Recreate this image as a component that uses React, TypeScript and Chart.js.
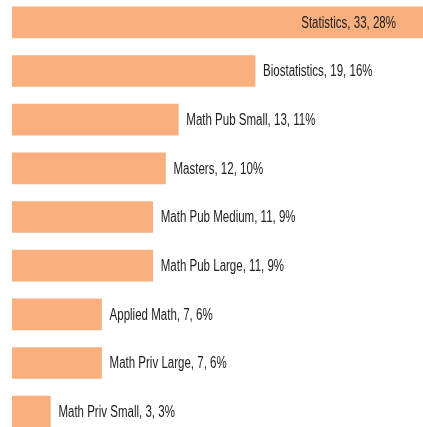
import React, { useEffect, useRef } from "react";
import { Chart, registerables } from "chart.js";

Chart.register(...registerables);

const categories = [
  "Statistics",
  "Biostatistics",
  "Math Pub Small",
  "Masters",
  "Math Pub Medium",
  "Math Pub Large",
  "Applied Math",
  "Math Priv Large",
  "Math Priv Small",
];
const counts = [33, 19, 13, 12, 11, 11, 7, 7, 3];
const percents = [28, 16, 11, 10, 9, 9, 6, 6, 3];

const FONT = '16px "Liberation Sans", Arial, sans-serif';
const SX = 0.72;

const labelPlugin = {
  id: "barLabels",
  afterDatasetsDraw(chart: any) {
    const ctx = chart.ctx;
    const meta = chart.getDatasetMeta(0);
    const area = chart.chartArea;
    ctx.save();
    ctx.font = FONT;
    ctx.fillStyle = "#222222";
    ctx.textBaseline = "middle";
    ctx.textAlign = "left";
    meta.data.forEach((bar: any, i: number) => {
      const text = `${categories[i]}, ${counts[i]}, ${percents[i]}%`;
      const w = ctx.measureText(text).width * SX;
      const y = bar.y + 1;
      let x = bar.x + 8;
      if (x + w > area.right) x = area.right - 27 - w;
      ctx.save();
      ctx.translate(x, y);
      ctx.scale(SX, 1);
      ctx.fillText(text, 0, 0);
      ctx.restore();
    });
    ctx.restore();
  },
};

export default function App() {
  const ref = useRef<HTMLCanvasElement>(null);
  useEffect(() => {
    if (!ref.current) return;
    const chart = new Chart(ref.current, {
      type: "bar",
      data: {
        labels: categories,
        datasets: [
          {
            data: counts,
            backgroundColor: "#F9AF7E",
            borderWidth: 0,
            barThickness: 31,
          },
        ],
      },
      options: {
        indexAxis: "y",
        animation: false,
        responsive: false,
        maintainAspectRatio: false,
        layout: { padding: { left: 12, right: 0, top: 0, bottom: 0 } },
        plugins: { legend: { display: false }, tooltip: { enabled: false } },
        scales: {
          x: { display: false, min: 0, max: 32.13 },
          y: { display: false },
        },
      },
      plugins: [labelPlugin],
    });
    return () => chart.destroy();
  }, []);
  return (
    <div style={{ position: "fixed", left: 0, top: 0, width: 423, height: 427, overflow: "hidden", background: "#fff" }}>
      <canvas ref={ref} width={423} height={438} style={{ position: "absolute", left: 0, top: -2, width: 423, height: 438 }} />
    </div>
  );
}
